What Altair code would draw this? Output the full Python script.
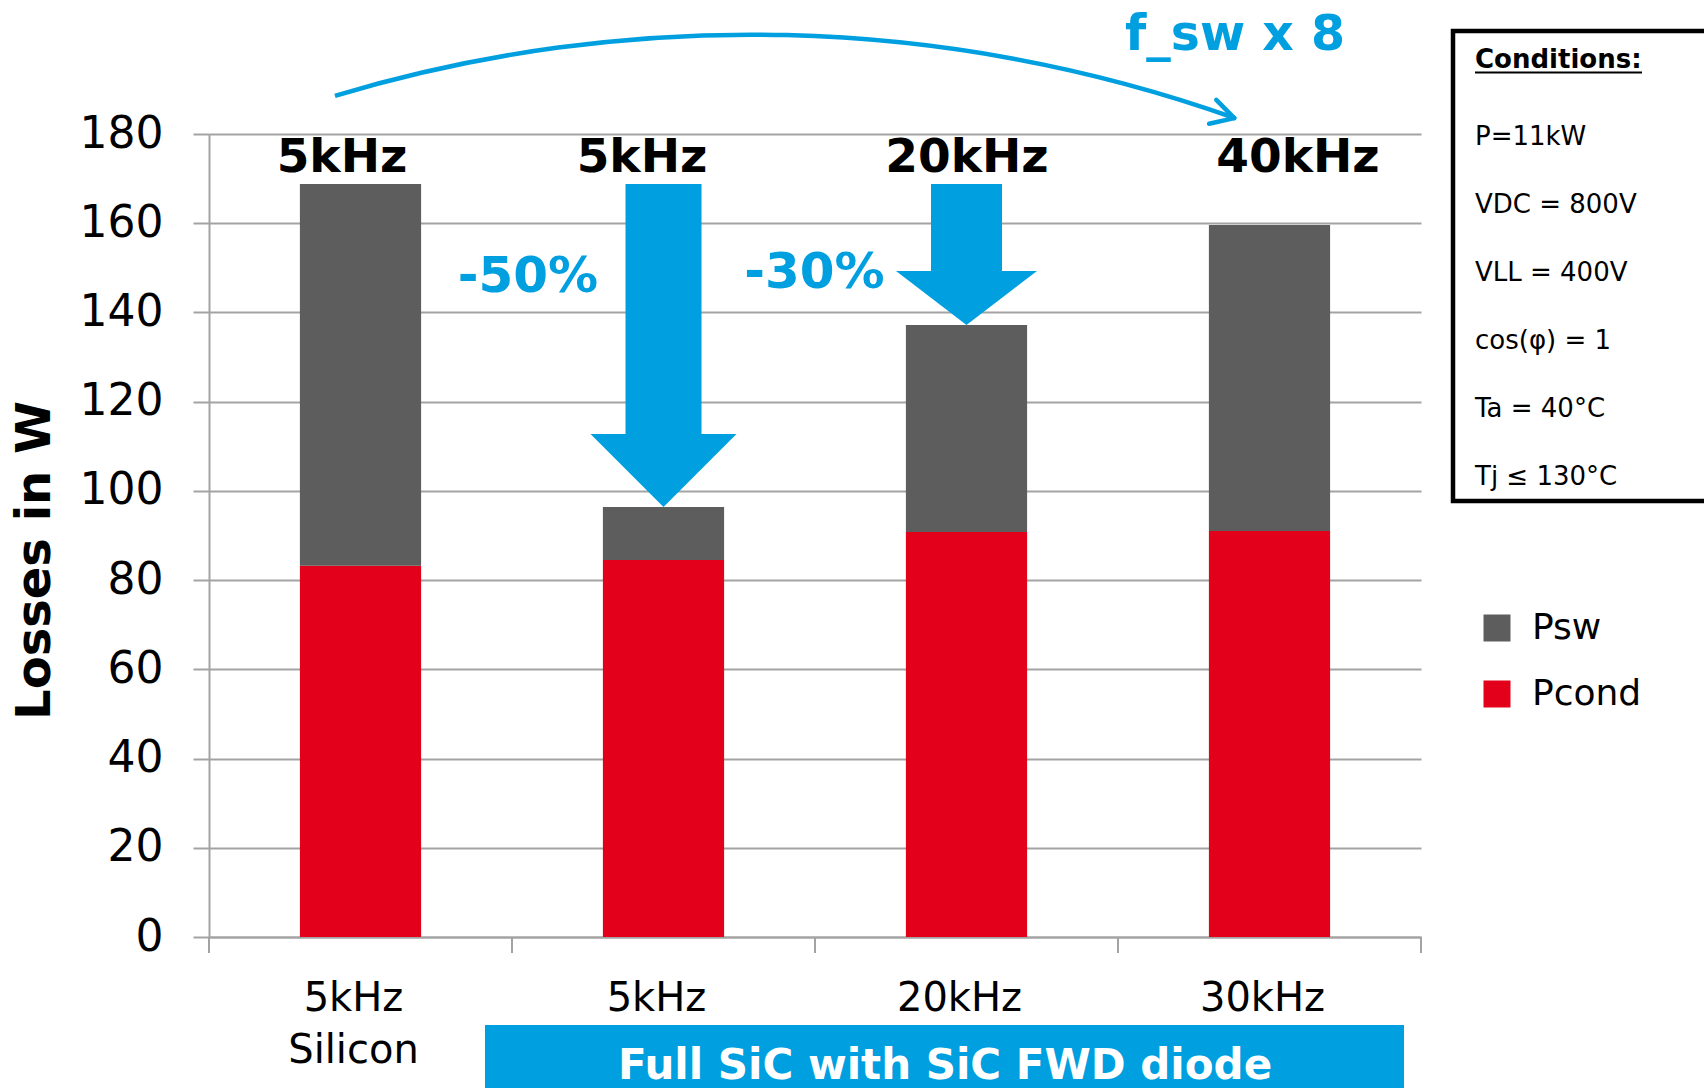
import altair as alt
import pandas as pd

# ---- data -------------------------------------------------------------
categories = ["5kHz\nSilicon", "5kHz", "20kHz", "30kHz"]
p_cond = [83.2, 84.5, 90.8, 91.0]          # conduction losses (W)
p_sw = [85.6, 11.9, 46.4, 68.6]            # switching losses (W)
series = ["Psw", "Pcond"]
y_ticks = [0, 20, 40, 60, 80, 100, 120, 140, 160, 180]
freq_labels = ["5kHz", "5kHz", "20kHz", "40kHz"]
reduction_labels = ["-50%", "-30%"]
condition_lines = ["P=11kW", "VDC = 800V", "VLL = 400V",
                   "cos(φ) = 1", "Ta = 40°C", "Tj ≤ 130°C"]

# ---- styling ----------------------------------------------------------
FONT = "DejaVu Sans"
GREY = "#5d5d5d"
RED = "#e2001a"
BLUE = "#009fe0"
AXIS_GREY = "#a3a3a3"
W, H = 1212, 803
Y_MAX = 180
PX_PER_W = H / Y_MAX

totals = [c + s for c, s in zip(p_cond, p_sw)]

rows = []
for i, cat in enumerate(categories):
    rows.append({"cat": cat, "series": "Pcond", "value": p_cond[i], "rank": 0})
    rows.append({"cat": cat, "series": "Psw", "value": p_sw[i], "rank": 1})
df = pd.DataFrame(rows)

y_scale = alt.Scale(domain=[0, Y_MAX], nice=False)
x_scale = alt.Scale(paddingInner=0, paddingOuter=0)

X_AXIS = alt.Axis(title=None, labelExpr="split(datum.label, '\\n')",
                  labelFontSize=40, labelColor="black", labelPadding=41,
                  labelLineHeight=52, labelAngle=0, labelOffset=-7,
                  labelLimit=0, labelOverlap=False, ticks=False, tickSize=0,
                  domainColor=AXIS_GREY, domainWidth=2, grid=False)
Y_AXIS = alt.Axis(values=y_ticks, title="Losses in W", titleFontSize=48,
                  titleFontWeight="bold", titleColor="black", titleAngle=270,
                  titleX=-174, titleY=426, titleAlign="center",
                  titleBaseline="middle", labelFontSize=44,
                  labelColor="black", labelPadding=30, tickSize=16,
                  tickColor=AXIS_GREY, tickWidth=2, domainColor=AXIS_GREY,
                  domainWidth=2, gridColor=AXIS_GREY, gridWidth=2)


def x_cat(**kw):
    return alt.X("cat:N", sort=categories, scale=x_scale, axis=X_AXIS, **kw)


def y_val(field):
    return alt.Y(field, scale=y_scale, axis=Y_AXIS)


one = pd.DataFrame({"k": [0]})

# stacked loss bars
bars = alt.Chart(df).mark_bar(width=alt.RelativeBandSize(0.4)).encode(
    x=x_cat(),
    y=alt.Y("value:Q", stack="zero", scale=y_scale, axis=Y_AXIS),
    color=alt.Color("series:N", scale=alt.Scale(domain=series, range=[GREY, RED]),
                    legend=alt.Legend(title=None, orient="none", legendX=1270,
                                      legendY=476, symbolType="square",
                                      symbolSize=729, symbolStrokeWidth=0,
                                      symbolOpacity=1, labelFontSize=36,
                                      labelColor="black", rowPadding=30,
                                      labelOffset=17, padding=0)),
    order=alt.Order("rank:Q"),
)

# category boundary ticks under the x axis
band_ticks = alt.Chart(pd.DataFrame({"cat": categories})).mark_rule(
    color=AXIS_GREY, strokeWidth=2
).encode(x=x_cat(bandPosition=0), y=alt.value(H), y2=alt.value(H + 16))
end_tick = alt.Chart(one).mark_rule(color=AXIS_GREY, strokeWidth=2).encode(
    x=alt.value(W), y=alt.value(H), y2=alt.value(H + 16))

layers = [bars, band_ticks, end_tick]

# downward arrows from the silicon total to the SiC totals
arrow_specs = [
    {"target": 1, "shaft": 76, "head_w": 146, "head_h": 73},
    {"target": 2, "shaft": 71, "head_w": 141, "head_h": 54},
]
for a in arrow_specs:
    tip = totals[a["target"]]
    head_top = tip + a["head_h"] / PX_PER_W
    adf = pd.DataFrame({"cat": [categories[a["target"]]], "start": [totals[0]],
                        "head_top": [head_top - 0.2], "tip": [tip]})
    shaft = alt.Chart(adf).mark_bar(width=a["shaft"], color=BLUE).encode(
        x=x_cat(), y=y_val("start:Q"), y2="head_top:Q")
    k = a["head_h"] / (a["head_w"] / 2)
    head = alt.Chart(adf).mark_point(
        shape=f"M-1,{-k:.4f}L1,{-k:.4f}L0,0Z", size=a["head_w"] ** 2,
        filled=True, color=BLUE, opacity=1, strokeWidth=0
    ).encode(x=x_cat(), y=y_val("tip:Q"))
    layers += [shaft, head]

# switching-frequency labels above each bar
freq_dx = [-18.5, -21.5, 0.5, 28.5]
for i, lab in enumerate(freq_labels):
    layers.append(
        alt.Chart(pd.DataFrame({"cat": [categories[i]], "t": [lab]})).mark_text(
            dx=freq_dx[i], fontSize=47, fontWeight="bold", color="black",
            align="center", baseline="alphabetic", font=FONT
        ).encode(x=x_cat(), y=alt.value(172 - 134), text="t:N"))

# loss reduction labels
red_pos = [(1, -135.5, 292 - 134), (2, -152, 288 - 134)]
for lab, (ci, dx, ypx) in zip(reduction_labels, red_pos):
    layers.append(
        alt.Chart(pd.DataFrame({"cat": [categories[ci]], "t": [lab]})).mark_text(
            dx=dx, fontSize=50, fontWeight="bold", color=BLUE, align="center",
            baseline="alphabetic", font=FONT
        ).encode(x=x_cat(), y=alt.value(ypx), text="t:N"))

# curved "f_sw x 8" arrow
arc = alt.Chart(one).mark_arc(
    radius=1447.7, radius2=1443.2, theta=5.9913, theta2=6.6241, color=BLUE
).encode(x=alt.value(541.9), y=alt.value(1346.1))
chevron_a = alt.Chart(one).mark_rule(color=BLUE, strokeWidth=4.5, strokeCap="round").encode(
    x=alt.value(1025.3), y=alt.value(-15.9), x2=alt.value(1007.3), y2=alt.value(-34.2))
chevron_b = alt.Chart(one).mark_rule(color=BLUE, strokeWidth=4.5, strokeCap="round").encode(
    x=alt.value(1025.3), y=alt.value(-15.9), x2=alt.value(1000.1), y2=alt.value(-10.2))
fsw_text = alt.Chart(one).mark_text(
    text="f_sw x 8", fontSize=49, fontWeight="bold", color=BLUE, align="center",
    baseline="alphabetic", font=FONT
).encode(x=alt.value(1026), y=alt.value(50 - 134))
layers += [arc, chevron_a, chevron_b, fsw_text]

# operating conditions box
box = alt.Chart(one).mark_rect(fillOpacity=0, stroke="black", strokeWidth=4.5).encode(
    x=alt.value(1244), x2=alt.value(1520), y=alt.value(-103), y2=alt.value(367))
cond_title = alt.Chart(one).mark_text(
    text="Conditions:", fontSize=26, fontWeight="bold", color="black", align="left",
    baseline="alphabetic", font=FONT
).encode(x=alt.value(1266), y=alt.value(68 - 134))
cond_underline = alt.Chart(one).mark_rule(color="black", strokeWidth=2).encode(
    x=alt.value(1266), x2=alt.value(1433), y=alt.value(72.5 - 134))
cond_lines = alt.Chart(one).mark_text(
    fontSize=26, color="black", align="left", baseline="alphabetic",
    lineHeight=68, font=FONT
).encode(x=alt.value(1266), y=alt.value(145 - 134), text=alt.value(condition_lines))
layers += [box, cond_title, cond_underline, cond_lines]

# technology banner below the SiC categories
banner = alt.Chart(one).mark_rect(color=BLUE).encode(
    x=alt.value(276), x2=alt.value(1195), y=alt.value(891), y2=alt.value(1000))
banner_text = alt.Chart(one).mark_text(
    text="Full SiC with SiC FWD diode", fontSize=42, fontWeight="bold",
    color="white", align="center", baseline="alphabetic", font=FONT
).encode(x=alt.value(736), y=alt.value(1079 - 134))
layers += [banner, banner_text]

chart = alt.layer(*layers).properties(
    width=W, height=H,
    padding={"left": 209, "top": 134, "right": 283, "bottom": 151},
    autosize=alt.AutoSizeParams(type="none"),
).configure(font=FONT).configure_view(strokeWidth=0).configure_axis(
    labelFont=FONT, titleFont=FONT
).configure_legend(labelFont=FONT)

chart.save("out.html", embed_options={"renderer": "svg", "actions": False})
